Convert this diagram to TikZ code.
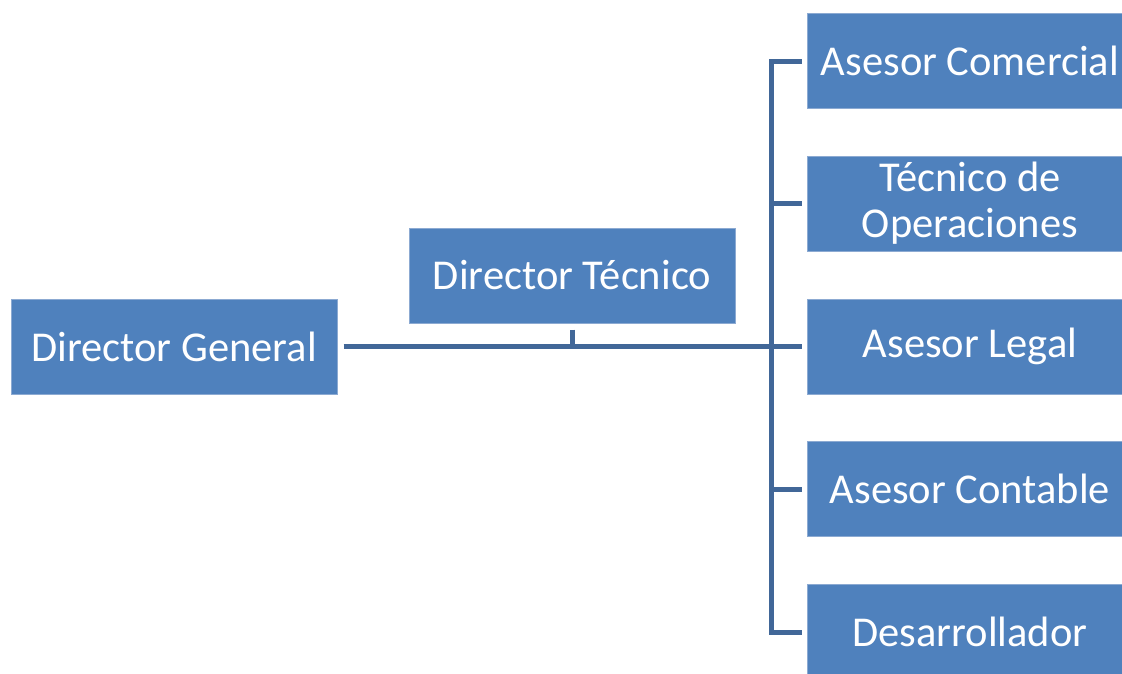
\documentclass[tikz,border=0pt]{standalone}
\usepackage{fontspec}
\setmainfont{Carlito}
\definecolor{boxfill}{RGB}{79,129,189}
\definecolor{boxedge}{RGB}{140,170,210}
\definecolor{linecol}{RGB}{65,103,152}
\begin{document}
\begin{tikzpicture}[x=1pt,y=-1pt,
  orgbox/.style={rectangle, fill=boxfill, draw=boxedge, line width=1pt,
    minimum width=326pt, minimum height=95pt, inner sep=0pt, text=white,
    align=center, font=\fontsize{42.5}{46}\selectfont},
  conn/.style={draw=linecol, line width=5pt, line join=miter}]
\useasboundingbox (0,0) rectangle (1122,673);
\node[orgbox] (dg) at (174,346.5) {Director General};
\node[orgbox] (dt) at (572,275.5) {Director Técnico};
\node[orgbox] (ac) at (970,61) {Asesor Comercial};
\node[orgbox] (to) at (970,203.5) {Técnico de\\Operaciones};
\node[orgbox] (al) at (970,346.5) {Asesor Legal};
\node[orgbox] (aco) at (970,489) {Asesor Contable};
\node[orgbox] (ds) at (970,632) {Desarrollador};
% main horizontal line
\draw[conn] ([xshift=6pt]dg.east) -- ([xshift=-5pt]al.west);
\draw[conn] ([yshift=-6pt]dt.south) -- (dt.south |- dg.east);
% bus
\draw[conn] ([xshift=-5pt]ac.west) -- ++(-30,0) |- ([xshift=-5pt]ds.west);
\draw[conn] ([xshift=-5pt]to.west) -- ++(-32,0);
\draw[conn] ([xshift=-5pt]aco.west) -- ++(-32,0);
\end{tikzpicture}
\end{document}
